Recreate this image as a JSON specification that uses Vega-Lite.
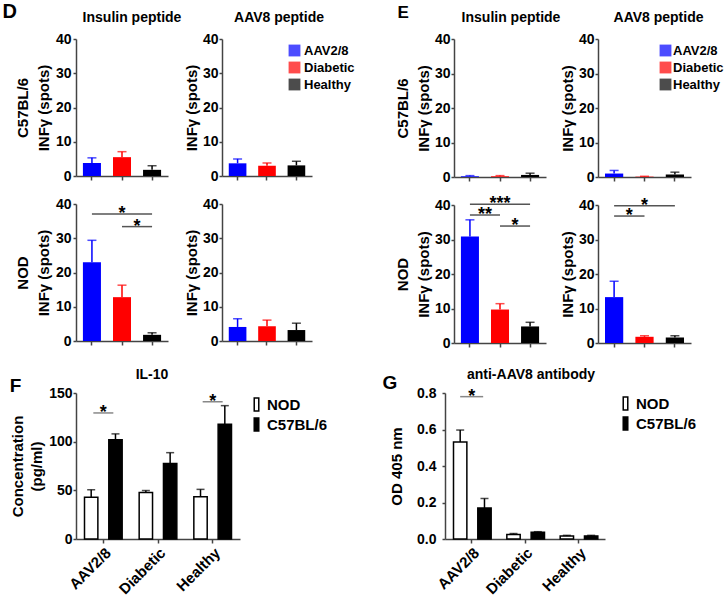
{
"$schema": "https://vega.github.io/schema/vega-lite/v6.json",
"padding": {"left": 2, "top": 2, "right": 0, "bottom": 0},
"config": {
 "font": "Liberation Sans",
 "view": {"stroke": null},
 "axis": {"labelFont": "Liberation Sans", "labelFontSize": 14, "labelFontWeight": "bold", "labelColor": "#000", "titleFont": "Liberation Sans", "titleFontSize": 15, "titleFontWeight": "bold", "titleColor": "#000", "domainColor": "#444", "domainWidth": 1.5, "tickColor": "#444", "tickWidth": 1.5, "grid": false},
 "title": {"font": "Liberation Sans", "fontSize": 14, "fontWeight": "bold", "color": "#000"},
 "legend": {"labelFont": "Liberation Sans", "labelFontWeight": "bold", "labelColor": "#000"}
},
"resolve": {"scale": {"color": "independent", "fill": "independent"}, "legend": {"color": "independent", "fill": "independent"}},
"spacing": 18,
"vconcat": [
 {"hconcat": [
  {"title": {"text": "D", "anchor": "start", "fontSize": 20, "offset": -11, "dx": -13},
   "columns": 2, "bounds": "flush", "spacing": {"row": 28, "column": 54},
   "resolve": {"scale": {"color": "independent"}, "legend": {"color": "independent"}},
   "concat": [
    {"width": 92, "height": 137, "title": {"text": "Insulin peptide", "frame": "group", "dx": 10, "offset": 7},
     "data": {"values": [{"g": "AAV2/8", "v": 3.8, "hi": 5.3}, {"g": "Diabetic", "v": 5.5, "hi": 7.1}, {"g": "Healthy", "v": 1.8, "hi": 3.0}]},
     "encoding": {"x": {"field": "g", "type": "nominal", "scale": {"domain": ["AAV2/8", "Diabetic", "Healthy"], "paddingInner": 0.4, "paddingOuter": 0.23}, "axis": {"labels": false, "title": null, "tickSize": 4}},
      "color": {"field": "g", "type": "nominal", "scale": {"domain": ["AAV2/8", "Diabetic", "Healthy"], "range": ["#0000ff", "#ff0000", "#000000"]}, "legend": null}},
     "layer": [
      {"mark": {"type": "bar"}, "encoding": {"y": {"field": "v", "type": "quantitative", "scale": {"domain": [0, 40]}, "axis": {"title": ["C57BL/6", "INFγ (spots)"], "values": [0, 10, 20, 30, 40], "tickSize": 3, "labelPadding": 2, "titlePadding": 4, "titleLineHeight": 21}}}},
      {"mark": {"type": "rule", "strokeWidth": 1.5}, "encoding": {"y": {"field": "v", "type": "quantitative", "scale": {"domain": [0, 40]}, "axis": {"title": ["C57BL/6", "INFγ (spots)"], "values": [0, 10, 20, 30, 40], "tickSize": 3, "labelPadding": 2, "titlePadding": 4, "titleLineHeight": 21}}, "y2": {"field": "hi"}}},
      {"mark": {"type": "tick", "size": 9, "thickness": 1.5}, "encoding": {"y": {"field": "hi", "type": "quantitative", "scale": {"domain": [0, 40]}, "axis": {"title": ["C57BL/6", "INFγ (spots)"], "values": [0, 10, 20, 30, 40], "tickSize": 3, "labelPadding": 2, "titlePadding": 4, "titleLineHeight": 21}}}}
     ]},
    {"width": 90, "height": 137, "title": {"text": "AAV8 peptide", "frame": "group", "dx": 12, "offset": 7},
     "data": {"values": [{"g": "AAV2/8", "v": 3.7, "hi": 5.0}, {"g": "Diabetic", "v": 3.0, "hi": 3.8}, {"g": "Healthy", "v": 3.1, "hi": 4.3}]},
     "encoding": {"x": {"field": "g", "type": "nominal", "scale": {"domain": ["AAV2/8", "Diabetic", "Healthy"], "paddingInner": 0.4, "paddingOuter": 0.23}, "axis": {"labels": false, "title": null, "tickSize": 4}},
      "color": {"field": "g", "type": "nominal", "scale": {"domain": ["AAV2/8", "Diabetic", "Healthy"], "range": ["#0000ff", "#ff0000", "#000000"]}, "legend": {"title": null, "orient": "none", "legendX": 66, "legendY": 5, "padding": 0, "symbolType": "square", "symbolSize": 140, "symbolStrokeWidth": 0, "labelFontSize": 13, "labelOffset": 3, "rowPadding": 3}}},
     "layer": [
      {"mark": {"type": "bar"}, "encoding": {"y": {"field": "v", "type": "quantitative", "scale": {"domain": [0, 40]}, "axis": {"title": "INFγ (spots)", "values": [0, 10, 20, 30, 40], "tickSize": 3, "labelPadding": 1, "titlePadding": 3}}}},
      {"mark": {"type": "rule", "strokeWidth": 1.5}, "encoding": {"y": {"field": "v", "type": "quantitative", "scale": {"domain": [0, 40]}, "axis": {"title": "INFγ (spots)", "values": [0, 10, 20, 30, 40], "tickSize": 3, "labelPadding": 1, "titlePadding": 3}}, "y2": {"field": "hi"}}},
      {"mark": {"type": "tick", "size": 9, "thickness": 1.5}, "encoding": {"y": {"field": "hi", "type": "quantitative", "scale": {"domain": [0, 40]}, "axis": {"title": "INFγ (spots)", "values": [0, 10, 20, 30, 40], "tickSize": 3, "labelPadding": 1, "titlePadding": 3}}}}
     ]},
    {"width": 92, "height": 137,
     "data": {"values": [{"g": "AAV2/8", "v": 23.0, "hi": 29.4}, {"g": "Diabetic", "v": 12.8, "hi": 16.3}, {"g": "Healthy", "v": 1.8, "hi": 2.4}]},
     "encoding": {"x": {"field": "g", "type": "nominal", "scale": {"domain": ["AAV2/8", "Diabetic", "Healthy"], "paddingInner": 0.4, "paddingOuter": 0.23}, "axis": {"labels": false, "title": null, "tickSize": 4}},
      "color": {"field": "g", "type": "nominal", "scale": {"domain": ["AAV2/8", "Diabetic", "Healthy"], "range": ["#0000ff", "#ff0000", "#000000"]}, "legend": null}},
     "layer": [
      {"mark": {"type": "bar"}, "encoding": {"y": {"field": "v", "type": "quantitative", "scale": {"domain": [0, 40]}, "axis": {"title": ["NOD", "INFγ (spots)"], "values": [0, 10, 20, 30, 40], "tickSize": 3, "labelPadding": 2, "titlePadding": 4, "titleLineHeight": 21}}}},
      {"mark": {"type": "rule", "strokeWidth": 1.5}, "encoding": {"y": {"field": "v", "type": "quantitative", "scale": {"domain": [0, 40]}, "axis": {"title": ["NOD", "INFγ (spots)"], "values": [0, 10, 20, 30, 40], "tickSize": 3, "labelPadding": 2, "titlePadding": 4, "titleLineHeight": 21}}, "y2": {"field": "hi"}}},
      {"mark": {"type": "tick", "size": 9, "thickness": 1.5}, "encoding": {"y": {"field": "hi", "type": "quantitative", "scale": {"domain": [0, 40]}, "axis": {"title": ["NOD", "INFγ (spots)"], "values": [0, 10, 20, 30, 40], "tickSize": 3, "labelPadding": 2, "titlePadding": 4, "titleLineHeight": 21}}}},
      {"data": {"values": [{"g": "AAV2/8", "g2": "Healthy", "y": 37.1}, {"g": "Diabetic", "g2": "Healthy", "y": 33.4}]},
       "mark": {"type": "rule", "strokeWidth": 1.5}, "encoding": {"x2": {"field": "g2"}, "y": {"field": "y", "type": "quantitative", "scale": {"domain": [0, 40]}, "axis": {"title": ["NOD", "INFγ (spots)"], "values": [0, 10, 20, 30, 40], "tickSize": 3, "labelPadding": 2, "titlePadding": 4, "titleLineHeight": 21}}, "color": {"value": "#555"}}},
      {"data": {"values": [{"g": "Diabetic", "y": 37.1, "t": "*"}]},
       "mark": {"type": "text", "fontSize": 18, "fontWeight": "bold", "baseline": "middle"}, "encoding": {"text": {"field": "t"}, "y": {"field": "y", "type": "quantitative", "scale": {"domain": [0, 40]}, "axis": {"title": ["NOD", "INFγ (spots)"], "values": [0, 10, 20, 30, 40], "tickSize": 3, "labelPadding": 2, "titlePadding": 4, "titleLineHeight": 21}}, "color": {"value": "#000"}}},
      {"data": {"values": [{"g": "Diabetic", "y": 33.4, "t": "*"}]},
       "mark": {"type": "text", "fontSize": 18, "fontWeight": "bold", "baseline": "middle"}, "encoding": {"x": {"field": "g", "type": "nominal", "bandPosition": 1.3333, "scale": {"domain": ["AAV2/8", "Diabetic", "Healthy"], "paddingInner": 0.4, "paddingOuter": 0.23}, "axis": {"labels": false, "title": null, "tickSize": 4}}, "text": {"field": "t"}, "y": {"field": "y", "type": "quantitative", "scale": {"domain": [0, 40]}, "axis": {"title": ["NOD", "INFγ (spots)"], "values": [0, 10, 20, 30, 40], "tickSize": 3, "labelPadding": 2, "titlePadding": 4, "titleLineHeight": 21}}, "color": {"value": "#000"}}}
     ]},
    {"width": 90, "height": 137,
     "data": {"values": [{"g": "AAV2/8", "v": 4.1, "hi": 6.5}, {"g": "Diabetic", "v": 4.3, "hi": 6.1}, {"g": "Healthy", "v": 3.2, "hi": 5.2}]},
     "encoding": {"x": {"field": "g", "type": "nominal", "scale": {"domain": ["AAV2/8", "Diabetic", "Healthy"], "paddingInner": 0.4, "paddingOuter": 0.23}, "axis": {"labels": false, "title": null, "tickSize": 4}},
      "color": {"field": "g", "type": "nominal", "scale": {"domain": ["AAV2/8", "Diabetic", "Healthy"], "range": ["#0000ff", "#ff0000", "#000000"]}, "legend": null}},
     "layer": [
      {"mark": {"type": "bar"}, "encoding": {"y": {"field": "v", "type": "quantitative", "scale": {"domain": [0, 40]}, "axis": {"title": "INFγ (spots)", "values": [0, 10, 20, 30, 40], "tickSize": 3, "labelPadding": 1, "titlePadding": 3}}}},
      {"mark": {"type": "rule", "strokeWidth": 1.5}, "encoding": {"y": {"field": "v", "type": "quantitative", "scale": {"domain": [0, 40]}, "axis": {"title": "INFγ (spots)", "values": [0, 10, 20, 30, 40], "tickSize": 3, "labelPadding": 1, "titlePadding": 3}}, "y2": {"field": "hi"}}},
      {"mark": {"type": "tick", "size": 9, "thickness": 1.5}, "encoding": {"y": {"field": "hi", "type": "quantitative", "scale": {"domain": [0, 40]}, "axis": {"title": "INFγ (spots)", "values": [0, 10, 20, 30, 40], "tickSize": 3, "labelPadding": 1, "titlePadding": 3}}}}
     ]}
   ]},
  {"title": {"text": "E", "anchor": "start", "fontSize": 17, "offset": -11, "dx": 2},
   "columns": 2, "bounds": "flush", "spacing": {"row": 28, "column": 52},
   "resolve": {"scale": {"color": "independent"}, "legend": {"color": "independent"}},
   "concat": [
    {"width": 92, "height": 138, "title": {"text": "Insulin peptide", "frame": "group", "dx": 11, "offset": 7},
     "data": {"values": [{"g": "AAV2/8", "v": 0.2, "hi": 0.4}, {"g": "Diabetic", "v": 0.2, "hi": 0.4}, {"g": "Healthy", "v": 0.6, "hi": 1.1}]},
     "encoding": {"x": {"field": "g", "type": "nominal", "scale": {"domain": ["AAV2/8", "Diabetic", "Healthy"], "paddingInner": 0.4, "paddingOuter": 0.23}, "axis": {"labels": false, "title": null, "tickSize": 4}},
      "color": {"field": "g", "type": "nominal", "scale": {"domain": ["AAV2/8", "Diabetic", "Healthy"], "range": ["#0000ff", "#ff0000", "#000000"]}, "legend": null}},
     "layer": [
      {"mark": {"type": "bar"}, "encoding": {"y": {"field": "v", "type": "quantitative", "scale": {"domain": [0, 40]}, "axis": {"title": ["C57BL/6", "INFγ (spots)"], "values": [0, 10, 20, 30, 40], "tickSize": 3, "labelPadding": 1, "titlePadding": 3, "titleLineHeight": 21}}}},
      {"mark": {"type": "rule", "strokeWidth": 1.5}, "encoding": {"y": {"field": "v", "type": "quantitative", "scale": {"domain": [0, 40]}, "axis": {"title": ["C57BL/6", "INFγ (spots)"], "values": [0, 10, 20, 30, 40], "tickSize": 3, "labelPadding": 1, "titlePadding": 3, "titleLineHeight": 21}}, "y2": {"field": "hi"}}},
      {"mark": {"type": "tick", "size": 9, "thickness": 1.5}, "encoding": {"y": {"field": "hi", "type": "quantitative", "scale": {"domain": [0, 40]}, "axis": {"title": ["C57BL/6", "INFγ (spots)"], "values": [0, 10, 20, 30, 40], "tickSize": 3, "labelPadding": 1, "titlePadding": 3, "titleLineHeight": 21}}}}
     ]},
    {"width": 93, "height": 138, "title": {"text": "AAV8 peptide", "frame": "group", "dx": 14, "offset": 7},
     "data": {"values": [{"g": "AAV2/8", "v": 1.0, "hi": 1.9}, {"g": "Diabetic", "v": 0.1, "hi": 0.2}, {"g": "Healthy", "v": 0.7, "hi": 1.4}]},
     "encoding": {"x": {"field": "g", "type": "nominal", "scale": {"domain": ["AAV2/8", "Diabetic", "Healthy"], "paddingInner": 0.4, "paddingOuter": 0.23}, "axis": {"labels": false, "title": null, "tickSize": 4}},
      "color": {"field": "g", "type": "nominal", "scale": {"domain": ["AAV2/8", "Diabetic", "Healthy"], "range": ["#0000ff", "#ff0000", "#000000"]}, "legend": {"title": null, "orient": "none", "legendX": 61, "legendY": 5, "padding": 0, "symbolType": "square", "symbolSize": 140, "symbolStrokeWidth": 0, "labelFontSize": 13, "labelOffset": 1, "rowPadding": 3}}},
     "layer": [
      {"mark": {"type": "bar"}, "encoding": {"y": {"field": "v", "type": "quantitative", "scale": {"domain": [0, 40]}, "axis": {"title": "INFγ (spots)", "values": [0, 10, 20, 30, 40], "tickSize": 3, "labelPadding": 1, "titlePadding": 3}}}},
      {"mark": {"type": "rule", "strokeWidth": 1.5}, "encoding": {"y": {"field": "v", "type": "quantitative", "scale": {"domain": [0, 40]}, "axis": {"title": "INFγ (spots)", "values": [0, 10, 20, 30, 40], "tickSize": 3, "labelPadding": 1, "titlePadding": 3}}, "y2": {"field": "hi"}}},
      {"mark": {"type": "tick", "size": 9, "thickness": 1.5}, "encoding": {"y": {"field": "hi", "type": "quantitative", "scale": {"domain": [0, 40]}, "axis": {"title": "INFγ (spots)", "values": [0, 10, 20, 30, 40], "tickSize": 3, "labelPadding": 1, "titlePadding": 3}}}}
     ]},
    {"width": 92, "height": 138,
     "data": {"values": [{"g": "AAV2/8", "v": 30.9, "hi": 35.7}, {"g": "Diabetic", "v": 9.7, "hi": 11.4}, {"g": "Healthy", "v": 4.8, "hi": 6.0}]},
     "encoding": {"x": {"field": "g", "type": "nominal", "scale": {"domain": ["AAV2/8", "Diabetic", "Healthy"], "paddingInner": 0.4, "paddingOuter": 0.23}, "axis": {"labels": false, "title": null, "tickSize": 4}},
      "color": {"field": "g", "type": "nominal", "scale": {"domain": ["AAV2/8", "Diabetic", "Healthy"], "range": ["#0000ff", "#ff0000", "#000000"]}, "legend": null}},
     "layer": [
      {"mark": {"type": "bar"}, "encoding": {"y": {"field": "v", "type": "quantitative", "scale": {"domain": [0, 40]}, "axis": {"title": ["NOD", "INFγ (spots)"], "values": [0, 10, 20, 30, 40], "tickSize": 3, "labelPadding": 1, "titlePadding": 3, "titleLineHeight": 21}}}},
      {"mark": {"type": "rule", "strokeWidth": 1.5}, "encoding": {"y": {"field": "v", "type": "quantitative", "scale": {"domain": [0, 40]}, "axis": {"title": ["NOD", "INFγ (spots)"], "values": [0, 10, 20, 30, 40], "tickSize": 3, "labelPadding": 1, "titlePadding": 3, "titleLineHeight": 21}}, "y2": {"field": "hi"}}},
      {"mark": {"type": "tick", "size": 9, "thickness": 1.5}, "encoding": {"y": {"field": "hi", "type": "quantitative", "scale": {"domain": [0, 40]}, "axis": {"title": ["NOD", "INFγ (spots)"], "values": [0, 10, 20, 30, 40], "tickSize": 3, "labelPadding": 1, "titlePadding": 3, "titleLineHeight": 21}}}},
      {"data": {"values": [{"g": "AAV2/8", "g2": "Healthy", "y": 40.2}, {"g": "AAV2/8", "g2": "Diabetic", "y": 37.1}, {"g": "Diabetic", "g2": "Healthy", "y": 33.9}]},
       "mark": {"type": "rule", "strokeWidth": 1.5}, "encoding": {"x2": {"field": "g2"}, "y": {"field": "y", "type": "quantitative", "scale": {"domain": [0, 40]}, "axis": {"title": ["NOD", "INFγ (spots)"], "values": [0, 10, 20, 30, 40], "tickSize": 3, "labelPadding": 1, "titlePadding": 3, "titleLineHeight": 21}}, "color": {"value": "#555"}}},
      {"data": {"values": [{"g": "Diabetic", "y": 40.2, "t": "***"}]},
       "mark": {"type": "text", "fontSize": 18, "fontWeight": "bold", "baseline": "middle"}, "encoding": {"text": {"field": "t"}, "y": {"field": "y", "type": "quantitative", "scale": {"domain": [0, 40]}, "axis": {"title": ["NOD", "INFγ (spots)"], "values": [0, 10, 20, 30, 40], "tickSize": 3, "labelPadding": 1, "titlePadding": 3, "titleLineHeight": 21}}, "color": {"value": "#000"}}},
      {"data": {"values": [{"g": "AAV2/8", "y": 37.1, "t": "**"}, {"g": "Diabetic", "y": 33.9, "t": "*"}]},
       "mark": {"type": "text", "fontSize": 18, "fontWeight": "bold", "baseline": "middle"}, "encoding": {"x": {"field": "g", "type": "nominal", "bandPosition": 1.3333, "scale": {"domain": ["AAV2/8", "Diabetic", "Healthy"], "paddingInner": 0.4, "paddingOuter": 0.23}, "axis": {"labels": false, "title": null, "tickSize": 4}}, "text": {"field": "t"}, "y": {"field": "y", "type": "quantitative", "scale": {"domain": [0, 40]}, "axis": {"title": ["NOD", "INFγ (spots)"], "values": [0, 10, 20, 30, 40], "tickSize": 3, "labelPadding": 1, "titlePadding": 3, "titleLineHeight": 21}}, "color": {"value": "#000"}}}
     ]},
    {"width": 93, "height": 138,
     "data": {"values": [{"g": "AAV2/8", "v": 13.3, "hi": 17.9}, {"g": "Diabetic", "v": 1.8, "hi": 2.1}, {"g": "Healthy", "v": 1.6, "hi": 2.1}]},
     "encoding": {"x": {"field": "g", "type": "nominal", "scale": {"domain": ["AAV2/8", "Diabetic", "Healthy"], "paddingInner": 0.4, "paddingOuter": 0.23}, "axis": {"labels": false, "title": null, "tickSize": 4}},
      "color": {"field": "g", "type": "nominal", "scale": {"domain": ["AAV2/8", "Diabetic", "Healthy"], "range": ["#0000ff", "#ff0000", "#000000"]}, "legend": null}},
     "layer": [
      {"mark": {"type": "bar"}, "encoding": {"y": {"field": "v", "type": "quantitative", "scale": {"domain": [0, 40]}, "axis": {"title": "INFγ (spots)", "values": [0, 10, 20, 30, 40], "tickSize": 3, "labelPadding": 1, "titlePadding": 3}}}},
      {"mark": {"type": "rule", "strokeWidth": 1.5}, "encoding": {"y": {"field": "v", "type": "quantitative", "scale": {"domain": [0, 40]}, "axis": {"title": "INFγ (spots)", "values": [0, 10, 20, 30, 40], "tickSize": 3, "labelPadding": 1, "titlePadding": 3}}, "y2": {"field": "hi"}}},
      {"mark": {"type": "tick", "size": 9, "thickness": 1.5}, "encoding": {"y": {"field": "hi", "type": "quantitative", "scale": {"domain": [0, 40]}, "axis": {"title": "INFγ (spots)", "values": [0, 10, 20, 30, 40], "tickSize": 3, "labelPadding": 1, "titlePadding": 3}}}},
      {"data": {"values": [{"g": "AAV2/8", "g2": "Healthy", "y": 39.8}, {"g": "AAV2/8", "g2": "Diabetic", "y": 36.8}]},
       "mark": {"type": "rule", "strokeWidth": 1.5}, "encoding": {"x2": {"field": "g2"}, "y": {"field": "y", "type": "quantitative", "scale": {"domain": [0, 40]}, "axis": {"title": "INFγ (spots)", "values": [0, 10, 20, 30, 40], "tickSize": 3, "labelPadding": 1, "titlePadding": 3}}, "color": {"value": "#555"}}},
      {"data": {"values": [{"g": "Diabetic", "y": 39.8, "t": "*"}]},
       "mark": {"type": "text", "fontSize": 18, "fontWeight": "bold", "baseline": "middle"}, "encoding": {"text": {"field": "t"}, "y": {"field": "y", "type": "quantitative", "scale": {"domain": [0, 40]}, "axis": {"title": "INFγ (spots)", "values": [0, 10, 20, 30, 40], "tickSize": 3, "labelPadding": 1, "titlePadding": 3}}, "color": {"value": "#000"}}},
      {"data": {"values": [{"g": "AAV2/8", "y": 36.8, "t": "*"}]},
       "mark": {"type": "text", "fontSize": 18, "fontWeight": "bold", "baseline": "middle"}, "encoding": {"x": {"field": "g", "type": "nominal", "bandPosition": 1.3333, "scale": {"domain": ["AAV2/8", "Diabetic", "Healthy"], "paddingInner": 0.4, "paddingOuter": 0.23}, "axis": {"labels": false, "title": null, "tickSize": 4}}, "text": {"field": "t"}, "y": {"field": "y", "type": "quantitative", "scale": {"domain": [0, 40]}, "axis": {"title": "INFγ (spots)", "values": [0, 10, 20, 30, 40], "tickSize": 3, "labelPadding": 1, "titlePadding": 3}}, "color": {"value": "#000"}}}
     ]}
   ]}
 ], "spacing": 40, "resolve": {"scale": {"color": "independent"}, "legend": {"color": "independent"}}},
 {"hconcat": [
  {"title": {"text": "F", "anchor": "start", "fontSize": 19, "offset": -28, "dx": -1},
   "vconcat": [
    {"width": 164, "height": 146, "title": {"text": "IL-10", "frame": "group", "dx": -6},
     "data": {"values": [{"g": "AAV2/8", "s": "NOD", "v": 43, "hi": 50.5}, {"g": "AAV2/8", "s": "C57BL/6", "v": 102, "hi": 108}, {"g": "Diabetic", "s": "NOD", "v": 47.7, "hi": 49.8}, {"g": "Diabetic", "s": "C57BL/6", "v": 77.5, "hi": 88.7}, {"g": "Healthy", "s": "NOD", "v": 43.3, "hi": 51}, {"g": "Healthy", "s": "C57BL/6", "v": 118, "hi": 137}]},
     "encoding": {"x": {"field": "g", "type": "nominal", "scale": {"domain": ["AAV2/8", "Diabetic", "Healthy"], "paddingInner": 0, "paddingOuter": 0}, "axis": {"title": null, "labelAngle": -45, "labelFontSize": 15, "tickSize": 4, "labelPadding": 2}}},
     "layer": [
      {"mark": {"type": "bar", "stroke": "#000", "strokeWidth": 1.5}, "encoding": {"xOffset": {"field": "s", "type": "nominal", "scale": {"domain": ["NOD", "C57BL/6"], "paddingInner": 0.45, "paddingOuter": 0.35}},
        "y": {"field": "v", "type": "quantitative", "scale": {"domain": [0, 150]}, "axis": {"title": ["Concentration", "(pg/ml)"], "values": [0, 50, 100, 150], "tickSize": 3, "labelPadding": 1, "titlePadding": 4, "titleLineHeight": 19}},
        "fill": {"field": "s", "type": "nominal", "scale": {"domain": ["NOD", "C57BL/6"], "range": ["#ffffff", "#000000"]}, "legend": {"title": null, "orient": "right", "offset": 5, "padding": 4, "symbolType": "M-0.35,-1H0.35V1H-0.35Z", "symbolSize": 169, "symbolStrokeColor": "#000", "symbolStrokeWidth": 1.5, "labelFontSize": 15, "labelOffset": 3, "rowPadding": 1}}}},
      {"mark": {"type": "rule", "strokeWidth": 1.5, "color": "#000"}, "encoding": {"xOffset": {"field": "s", "type": "nominal", "scale": {"domain": ["NOD", "C57BL/6"], "paddingInner": 0.45, "paddingOuter": 0.35}},
        "y": {"field": "v", "type": "quantitative", "scale": {"domain": [0, 150]}, "axis": {"title": ["Concentration", "(pg/ml)"], "values": [0, 50, 100, 150], "tickSize": 3, "labelPadding": 1, "titlePadding": 4, "titleLineHeight": 19}}, "y2": {"field": "hi"}}},
      {"mark": {"type": "tick", "size": 8, "thickness": 1.5, "color": "#000"}, "encoding": {"xOffset": {"field": "s", "type": "nominal", "scale": {"domain": ["NOD", "C57BL/6"], "paddingInner": 0.45, "paddingOuter": 0.35}},
        "y": {"field": "hi", "type": "quantitative", "scale": {"domain": [0, 150]}, "axis": {"title": ["Concentration", "(pg/ml)"], "values": [0, 50, 100, 150], "tickSize": 3, "labelPadding": 1, "titlePadding": 4, "titleLineHeight": 19}}}},
      {"data": {"values": [{"g": "AAV2/8", "y": 129.5, "t": "*"}, {"g": "Healthy", "y": 141, "t": "*"}]},
       "layer": [
        {"mark": {"type": "tick", "size": 20, "thickness": 1.5, "color": "#555"}, "encoding": {"y": {"field": "y", "type": "quantitative", "scale": {"domain": [0, 150]}, "axis": {"title": ["Concentration", "(pg/ml)"], "values": [0, 50, 100, 150], "tickSize": 3, "labelPadding": 1, "titlePadding": 4, "titleLineHeight": 19}}}},
        {"mark": {"type": "text", "fontSize": 18, "fontWeight": "bold", "baseline": "middle", "color": "#000"}, "encoding": {"text": {"field": "t"}, "y": {"field": "y", "type": "quantitative", "scale": {"domain": [0, 150]}, "axis": {"title": ["Concentration", "(pg/ml)"], "values": [0, 50, 100, 150], "tickSize": 3, "labelPadding": 1, "titlePadding": 4, "titleLineHeight": 19}}}}
       ]}
     ]}
   ]},
  {"title": {"text": "G", "anchor": "start", "fontSize": 19, "offset": -25, "dx": -7},
   "vconcat": [
    {"width": 160, "height": 146, "title": {"text": "anti-AAV8 antibody", "frame": "group", "dx": 6},
     "data": {"values": [{"g": "AAV2/8", "s": "NOD", "v": 0.531, "hi": 0.597}, {"g": "AAV2/8", "s": "C57BL/6", "v": 0.170, "hi": 0.222}, {"g": "Diabetic", "s": "NOD", "v": 0.025, "hi": 0.030}, {"g": "Diabetic", "s": "C57BL/6", "v": 0.037, "hi": 0.040}, {"g": "Healthy", "s": "NOD", "v": 0.016, "hi": 0.020}, {"g": "Healthy", "s": "C57BL/6", "v": 0.017, "hi": 0.020}]},
     "encoding": {"x": {"field": "g", "type": "nominal", "scale": {"domain": ["AAV2/8", "Diabetic", "Healthy"], "paddingInner": 0, "paddingOuter": 0}, "axis": {"title": null, "labelAngle": -45, "labelFontSize": 15, "tickSize": 4, "labelPadding": 2}}},
     "layer": [
      {"mark": {"type": "bar", "stroke": "#000", "strokeWidth": 1.5}, "encoding": {"xOffset": {"field": "s", "type": "nominal", "scale": {"domain": ["NOD", "C57BL/6"], "paddingInner": 0.42, "paddingOuter": 0.3}},
        "y": {"field": "v", "type": "quantitative", "scale": {"domain": [0, 0.8]}, "axis": {"title": "OD 405 nm", "values": [0, 0.2, 0.4, 0.6, 0.8], "format": ".1f", "tickSize": 3, "labelPadding": 6, "titlePadding": 12}},
        "fill": {"field": "s", "type": "nominal", "scale": {"domain": ["NOD", "C57BL/6"], "range": ["#ffffff", "#000000"]}, "legend": {"title": null, "orient": "right", "offset": 10, "padding": 3, "symbolType": "M-0.35,-1H0.35V1H-0.35Z", "symbolSize": 169, "symbolStrokeColor": "#000", "symbolStrokeWidth": 1.5, "labelFontSize": 15, "labelOffset": 3, "rowPadding": 1}}}},
      {"mark": {"type": "rule", "strokeWidth": 1.5, "color": "#000"}, "encoding": {"xOffset": {"field": "s", "type": "nominal", "scale": {"domain": ["NOD", "C57BL/6"], "paddingInner": 0.42, "paddingOuter": 0.3}},
        "y": {"field": "v", "type": "quantitative", "scale": {"domain": [0, 0.8]}, "axis": {"title": "OD 405 nm", "values": [0, 0.2, 0.4, 0.6, 0.8], "format": ".1f", "tickSize": 3, "labelPadding": 6, "titlePadding": 12}}, "y2": {"field": "hi"}}},
      {"mark": {"type": "tick", "size": 8, "thickness": 1.5, "color": "#000"}, "encoding": {"xOffset": {"field": "s", "type": "nominal", "scale": {"domain": ["NOD", "C57BL/6"], "paddingInner": 0.42, "paddingOuter": 0.3}},
        "y": {"field": "hi", "type": "quantitative", "scale": {"domain": [0, 0.8]}, "axis": {"title": "OD 405 nm", "values": [0, 0.2, 0.4, 0.6, 0.8], "format": ".1f", "tickSize": 3, "labelPadding": 6, "titlePadding": 12}}}},
      {"data": {"values": [{"g": "AAV2/8", "y": 0.78, "t": "*"}]},
       "layer": [
        {"mark": {"type": "tick", "size": 23, "thickness": 1.5, "color": "#555"}, "encoding": {"y": {"field": "y", "type": "quantitative", "scale": {"domain": [0, 0.8]}, "axis": {"title": "OD 405 nm", "values": [0, 0.2, 0.4, 0.6, 0.8], "format": ".1f", "tickSize": 3, "labelPadding": 6, "titlePadding": 12}}}},
        {"mark": {"type": "text", "fontSize": 18, "fontWeight": "bold", "baseline": "middle", "color": "#000"}, "encoding": {"text": {"field": "t"}, "y": {"field": "y", "type": "quantitative", "scale": {"domain": [0, 0.8]}, "axis": {"title": "OD 405 nm", "values": [0, 0.2, 0.4, 0.6, 0.8], "format": ".1f", "tickSize": 3, "labelPadding": 6, "titlePadding": 12}}}}
       ]}
     ]}
   ]}
 ], "spacing": 50, "resolve": {"scale": {"fill": "independent"}, "legend": {"fill": "independent"}}}
]
}
